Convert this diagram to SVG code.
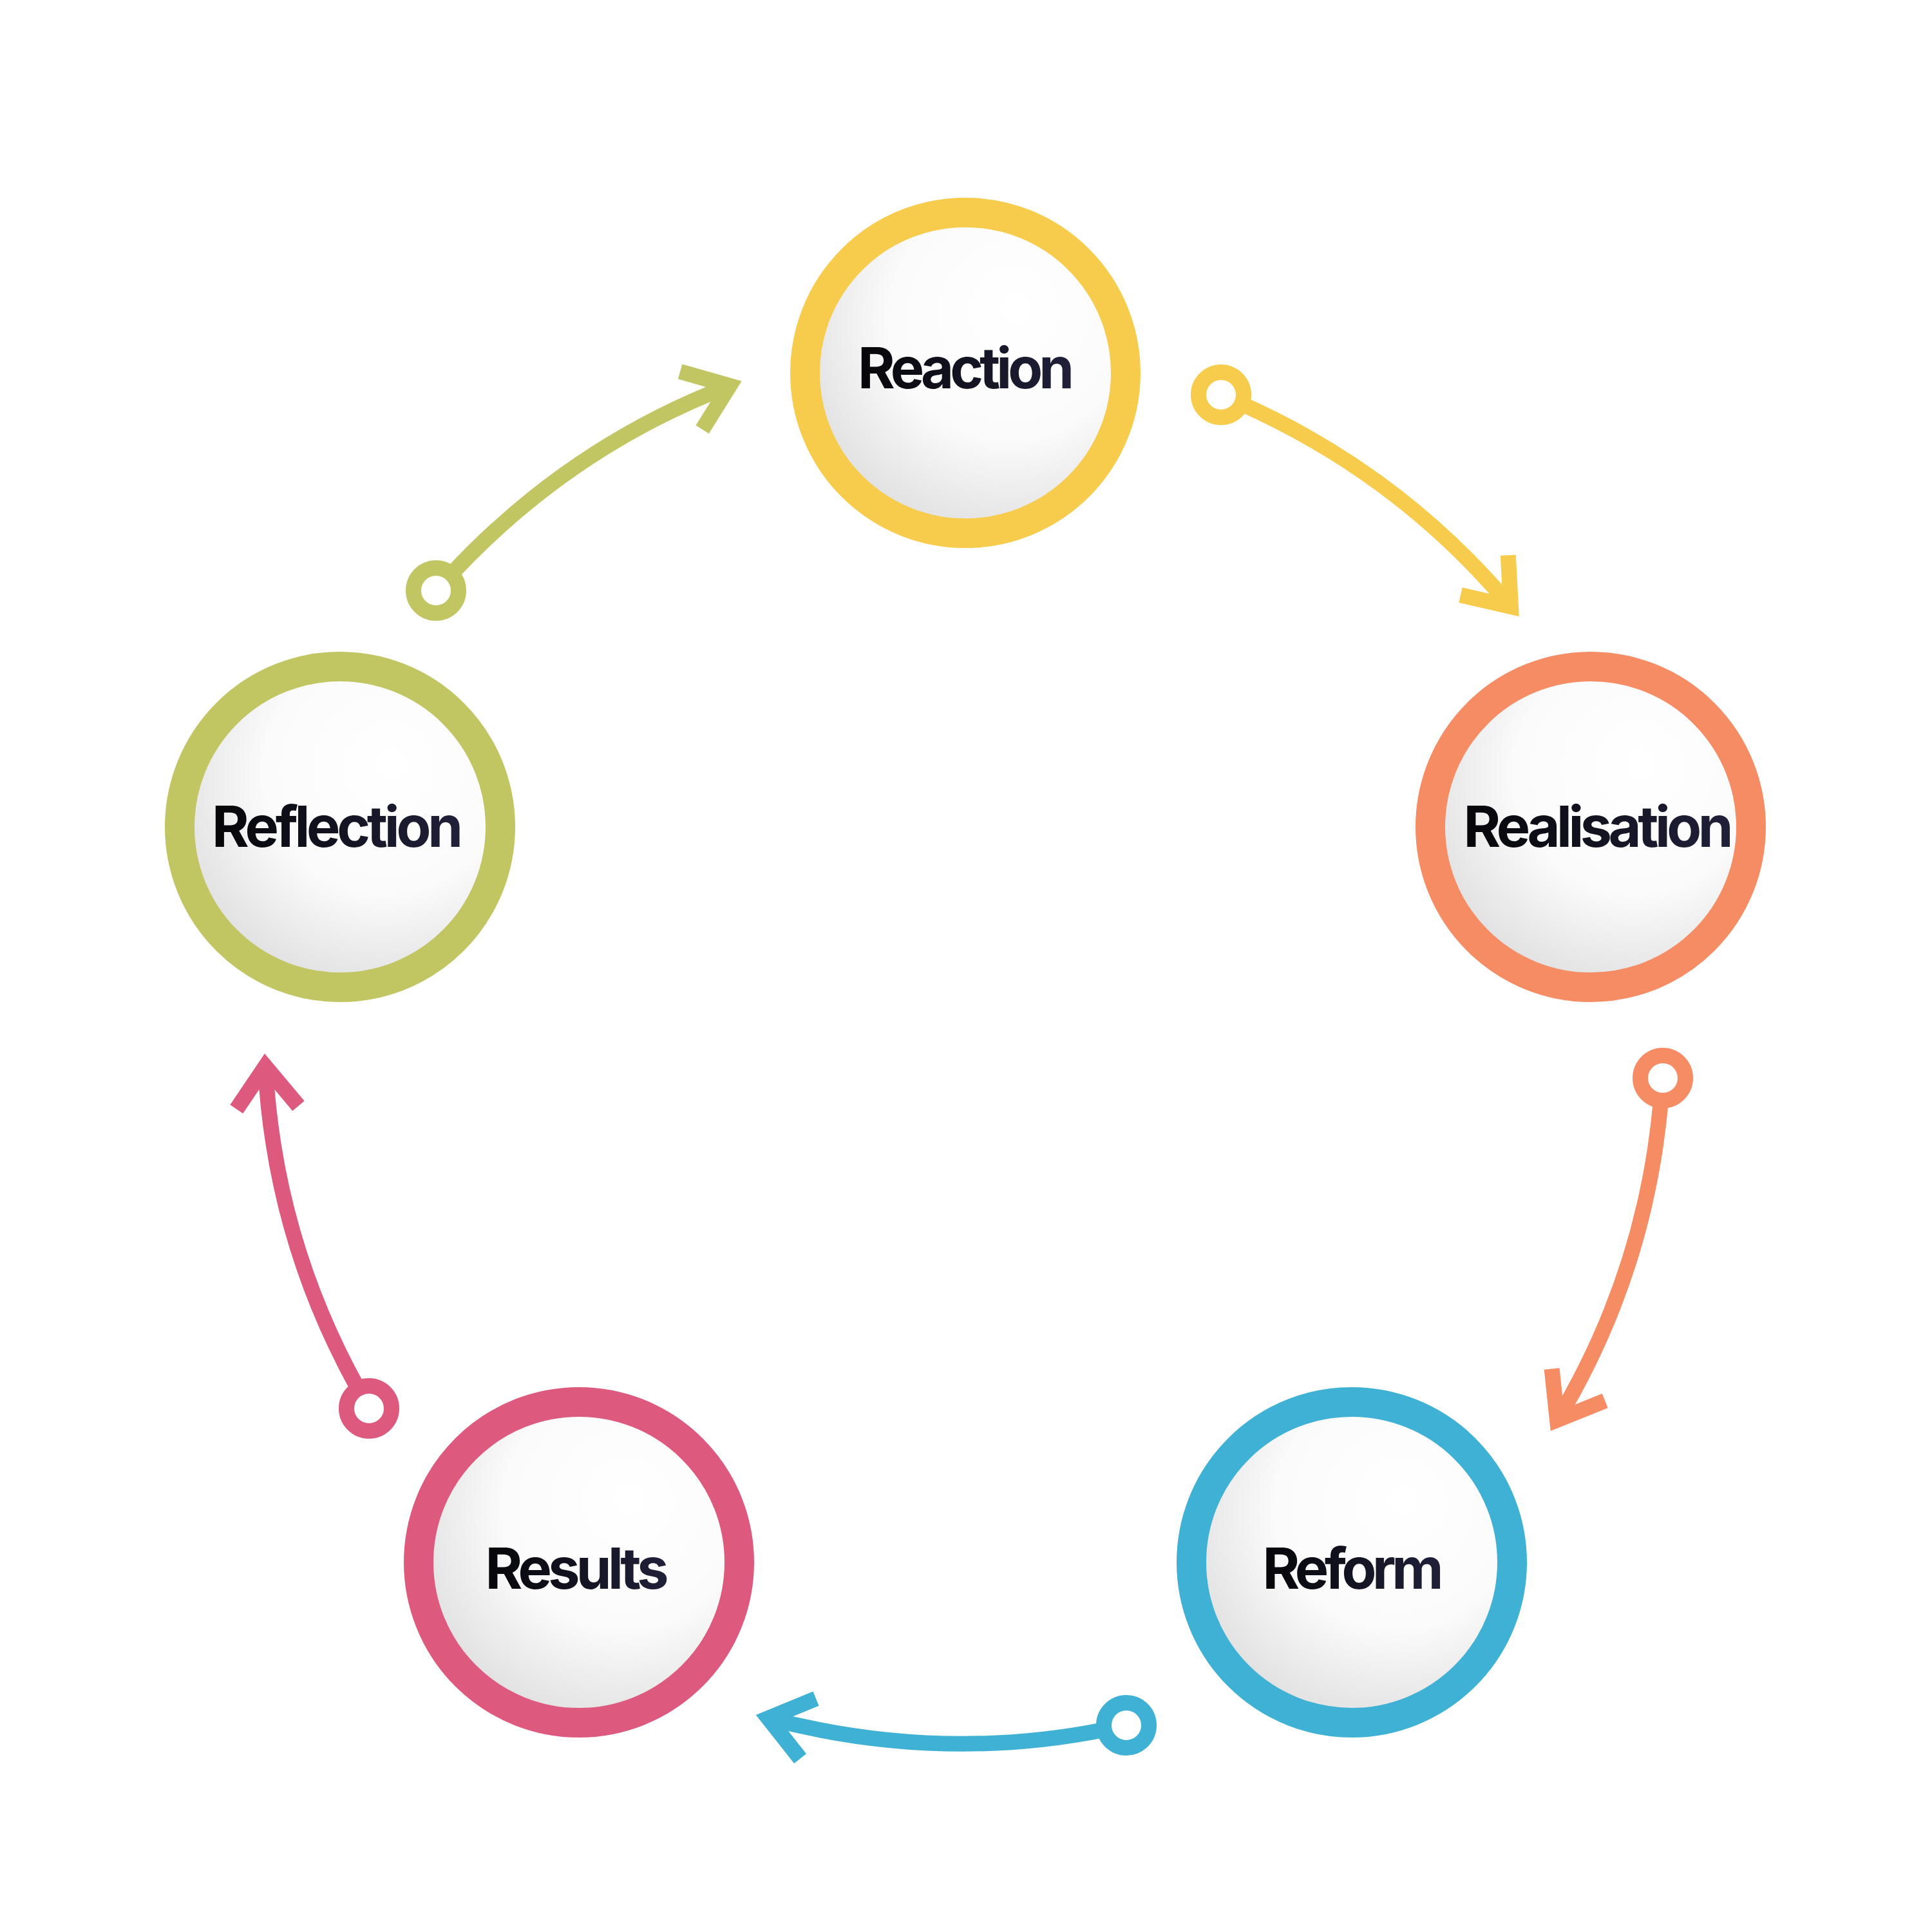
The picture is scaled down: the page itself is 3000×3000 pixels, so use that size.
<svg xmlns="http://www.w3.org/2000/svg" width="3000" height="3000" viewBox="0 0 3000 3000">
  <defs>
    <radialGradient id="ball" cx="0.62" cy="0.36" r="0.75" fx="0.66" fy="0.3">
      <stop offset="0" stop-color="#ffffff"/>
      <stop offset="0.5" stop-color="#fbfbfb"/>
      <stop offset="1" stop-color="#d9d9d9"/>
    </radialGradient>
    <linearGradient id="ink" x1="0" y1="0" x2="1" y2="0">
      <stop offset="0" stop-color="#060609"/>
      <stop offset="1" stop-color="#20213a"/>
    </linearGradient>
  </defs>
  <style>
    .node circle { fill: url(#ball); stroke-width: 46; }
    .label { font-family: Inter, "Liberation Sans", sans-serif; font-weight: 700; font-size: 88px; fill: url(#ink); text-anchor: middle; }
    .arrow path, .arrow polyline { fill: none; stroke-width: 24; stroke-linejoin: miter; stroke-linecap: butt; }
    .arrow circle { fill: #ffffff; stroke-width: 24; }
    .yellow { stroke: #F7CC4C; }
    .orange { stroke: #F58C64; }
    .blue { stroke: #3EB1D4; }
    .pink { stroke: #DD5A7E; }
    .green { stroke: #C1C663; }
  </style>
  <rect x="0" y="0" width="3000" height="3000" fill="#ffffff"/>

  <g id="connectors">
    <g id="arrow-reflection-reaction" class="arrow green">
      <path d="M700.9,891.4 Q884.6,694 1133,599"/>
      <polyline points="1056.1,577 1133,599 1090.6,666.8"/>
      <circle cx="677" cy="917" r="35"/>
    </g>
    <g id="arrow-reaction-realisation" class="arrow yellow">
      <path d="M1928,627.2 Q2173.5,736.5 2346,942"/>
      <polyline points="2341.8,862.1 2346,942 2268,924"/>
      <circle cx="1896" cy="613" r="35"/>
    </g>
    <g id="arrow-realisation-reform" class="arrow orange">
      <path d="M2579,1709 Q2555.6,1975.9 2418,2205"/>
      <polyline points="2409.6,2125.4 2418,2205 2492.2,2175"/>
      <circle cx="2582" cy="1674" r="35"/>
    </g>
    <g id="arrow-reform-results" class="arrow blue">
      <path d="M1714.7,2685.9 Q1457.3,2737.3 1193,2668"/>
      <polyline points="1267,2637.6 1193,2668 1242.6,2730.8"/>
      <circle cx="1749" cy="2679" r="35"/>
    </g>
    <g id="arrow-results-reflection" class="arrow pink">
      <path d="M556,2156.4 Q425.9,1921.7 412,1656"/>
      <polyline points="367.3,1722.3 412,1656 463.4,1717.3"/>
      <circle cx="573" cy="2187" r="35"/>
    </g>
  </g>

  <g id="node-reaction" class="node">
    <circle cx="1499" cy="579" r="249" stroke="#F7CC4C"/>
    <text class="label" x="1500" y="603" textLength="336" lengthAdjust="spacing">Reaction</text>
  </g>
  <g id="node-realisation" class="node">
    <circle cx="2470" cy="1284" r="249" stroke="#F58C64"/>
    <text class="label" x="2482" y="1315" textLength="419" lengthAdjust="spacing">Realisation</text>
  </g>
  <g id="node-reform" class="node">
    <circle cx="2099" cy="2426" r="249" stroke="#3EB1D4"/>
    <text class="label" x="2101" y="2467" textLength="281" lengthAdjust="spacing">Reform</text>
  </g>
  <g id="node-results" class="node">
    <circle cx="899" cy="2426" r="249" stroke="#DD5A7E"/>
    <text class="label" x="896" y="2467" textLength="285" lengthAdjust="spacing">Results</text>
  </g>
  <g id="node-reflection" class="node">
    <circle cx="528" cy="1284" r="249" stroke="#C1C663"/>
    <text class="label" x="524" y="1315" textLength="390" lengthAdjust="spacing">Reflection</text>
  </g>
</svg>
